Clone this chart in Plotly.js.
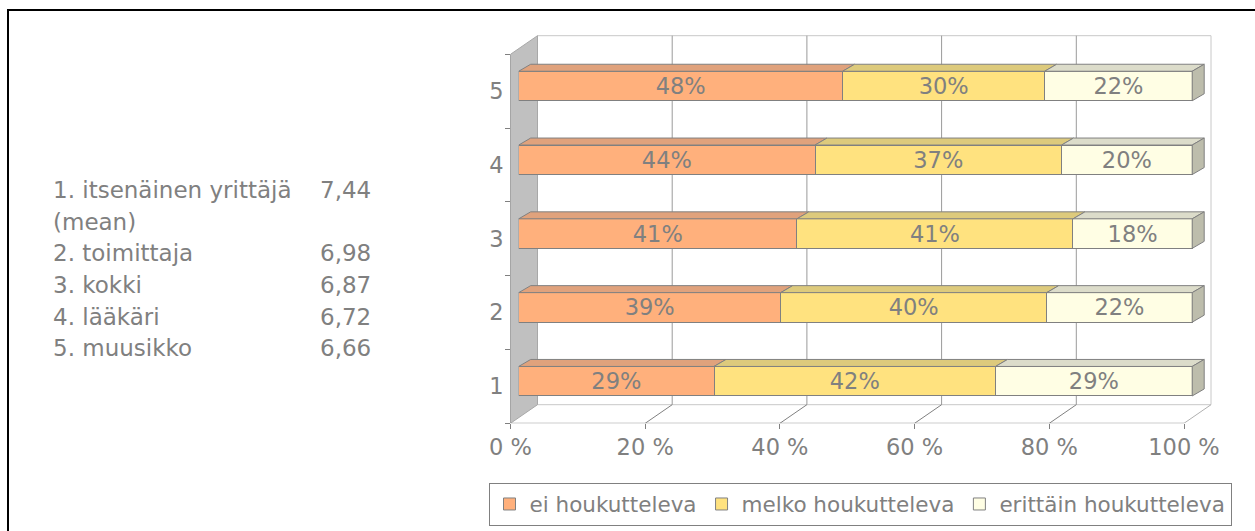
<!DOCTYPE html>
<html><head><meta charset="utf-8">
<script src="https://cdn.plot.ly/plotly-3.0.1.min.js"></script>
<style>html,body{margin:0;padding:0;background:#fff;overflow:hidden}#chart{width:1255px;height:531px}</style>
</head><body><div id="chart"></div>
<script>
// ---- data ----
const categories = ['1', '2', '3', '4', '5'];
const seriesNames = ['ei houkutteleva', 'melko houkutteleva', 'erittäin houkutteleva'];
const eiValues = [29.0, 38.9, 41.3, 44.0, 48.1];
const melkoValues = [41.8, 39.5, 41.0, 36.6, 30.0];
const erittainValues = [29.2, 21.6, 17.7, 19.4, 21.9];
const eiLabels = ['29%', '39%', '41%', '44%', '48%'];
const melkoLabels = ['42%', '40%', '41%', '37%', '30%'];
const erittainLabels = ['29%', '22%', '18%', '20%', '22%'];
const xTickValues = [0, 20, 40, 60, 80, 100];
const xTickLabels = ['0 %', '20 %', '40 %', '60 %', '80 %', '100 %'];
const noteLines = ['1. itsenäinen yrittäjä', '(mean)', '2. toimittaja', '3. kokki', '4. lääkäri', '5. muusikko'];
const noteMeans = ['7,44', '', '6,98', '6,87', '6,72', '6,66'];

// ---- styling / geometry ----
const W = 1255, H = 531;
const FONT = 'DejaVu Sans, Arial, sans-serif';
const GREY = '#808080';
const frontColors = ['#FFB07C', '#FFE27F', '#FFFEE4'];
const topColors = ['#E0A27C', '#DDCA7C', '#DCDCCA'];
const sideColor = '#BDBDAC';
const FX0 = 510.5, FX100 = 1184;            // front floor edge, 0% and 100%
const PPX = (FX100 - FX0) / 100;            // px per percent
const AB = 423.3, AT = 54.3;                // front category axis bottom/top
const PPC = (AB - AT) / 5;                  // px per category
const DEPTH_X = 27, DEPTH_Y = 18.6;         // back wall offset
const BSX = 8.2, BSY = 5.2;                 // bar front-face offset
const BDX = 12, BDY = 7;                    // bar depth
const py = v => 1 - v / H, px = v => v / W;

// subplot A (frame) geometry
const aRight = FX100 + DEPTH_X + 3, aTop = AT - DEPTH_Y - 3;
const aXr = [0, (aRight - FX0) / PPX];
const aYr = [0.5, 0.5 + (AB - aTop) / PPC];
const dx = DEPTH_X / PPX, dy = DEPTH_Y / PPC;
// subplot B (bars) geometry
const bLeft = FX0 + BSX, bRight = bLeft + 100 * PPX + BDX + 5;
const bBottom = AB - BSY, bTop = AT - BSY - BDY - 5;
const bXr = [0, (bRight - bLeft) / PPX];
const bYr = [0.5, 0.5 + (bBottom - bTop) / PPC];
const bdx = BDX / PPX, bdy = BDY / PPC;
const BARW = 0.4;

const yNum = categories.map(Number);
const seriesVals = [eiValues, melkoValues, erittainValues];
const seriesLabels = [eiLabels, melkoLabels, erittainLabels];

const traces = seriesVals.map((vals, s) => ({
  type: 'bar', orientation: 'h', name: seriesNames[s],
  x: vals, y: yNum, xaxis: 'x2', yaxis: 'y2', width: BARW,
  marker: {color: frontColors[s], line: {color: GREY, width: 1}},
  text: seriesLabels[s], textposition: 'inside', insidetextanchor: 'middle',
  textfont: {family: FONT, size: 22.5, color: GREY},
  hoverinfo: 'skip'
}));

const shapes = [];
const lineA = (x0, y0, x1, y1, color, layer) => shapes.push({type: 'line', xref: 'x', yref: 'y', x0, y0, x1, y1, layer: layer || 'below', line: {color, width: 1}});
// back wall
shapes.push({type: 'rect', xref: 'x', yref: 'y', x0: dx, x1: 100 + dx, y0: 0.5 + dy, y1: 5.5 + dy, layer: 'below', fillcolor: '#ffffff', line: {color: '#c8c8c8', width: 1}});
// back-wall gridlines and floor diagonals
xTickValues.forEach(t => {
  if (t > 0 && t < 100) lineA(t + dx, 0.5 + dy, t + dx, 5.5 + dy, '#9a9a9a');
  if (t > 0) lineA(t, 0.5, t + dx, 0.5 + dy, t === 100 ? '#b0b0b0' : GREY);
});
// left wall
shapes.push({type: 'path', xref: 'x', yref: 'y', layer: 'below', fillcolor: '#C0C0C0', line: {color: '#a8a8a8', width: 1},
  path: `M0,0.5 L0,5.5 L${dx},${5.5 + dy} L${dx},${0.5 + dy} Z`});
// axis lines
lineA(0, 0.5, 100, 0.5, GREY);
lineA(0, 0.5, 0, 5.5, GREY);

// bar 3D faces
const totals = yNum.map((_, i) => seriesVals.reduce((a, v) => a + v[i], 0));
yNum.forEach((yc, i) => {
  let c = 0;
  const yt = yc + BARW / 2, yb = yc - BARW / 2;
  seriesVals.forEach((vals, s) => {
    const c1 = c + vals[i] / totals[i] * 100;
    shapes.push({type: 'path', xref: 'x2', yref: 'y2', layer: 'above', fillcolor: topColors[s], line: {color: GREY, width: 1},
      path: `M${c},${yt} L${c1},${yt} L${c1 + bdx},${yt + bdy} L${c + bdx},${yt + bdy} Z`});
    c = c1;
  });
  shapes.push({type: 'path', xref: 'x2', yref: 'y2', layer: 'above', fillcolor: sideColor, line: {color: GREY, width: 1},
    path: `M100,${yb} L100,${yt} L${100 + bdx},${yt + bdy} L${100 + bdx},${yb + bdy} Z`});
});

// outer frame (left + top edge)
shapes.push({type: 'path', xref: 'paper', yref: 'paper', layer: 'above', line: {color: '#000000', width: 2},
  path: `M${px(8)},-0.05 L${px(8)},${py(10)} L1.05,${py(10)}`});

// left note text
const annotations = [];
const LINE0 = 190.2, PITCH = 31.6;
noteLines.forEach((t, i) => {
  annotations.push({xref: 'paper', yref: 'paper', x: px(51), y: py(LINE0 + i * PITCH), xanchor: 'left', yanchor: 'middle',
    text: t, showarrow: false, font: {family: FONT, size: 23, color: GREY}});
  if (noteMeans[i]) annotations.push({xref: 'paper', yref: 'paper', x: px(318), y: py(LINE0 + i * PITCH), xanchor: 'left', yanchor: 'middle',
    text: noteMeans[i], showarrow: false, font: {family: FONT, size: 23, color: GREY}});
});

const layout = {
  width: W, height: H, margin: {l: 0, r: 0, t: 0, b: 0},
  paper_bgcolor: '#ffffff', plot_bgcolor: 'rgba(0,0,0,0)',
  barmode: 'stack', barnorm: 'percent',
  uniformtext: {mode: 'show', minsize: 22.5},
  font: {family: FONT, color: GREY},
  showlegend: true,
  legend: {orientation: 'h', x: px(488.5), y: py(482.5), xanchor: 'left', yanchor: 'top',
    bordercolor: GREY, borderwidth: 1, bgcolor: '#ffffff', traceorder: 'normal',
    font: {family: FONT, size: 21.5, color: GREY}},
  xaxis: {domain: [px(FX0), px(aRight)], range: aXr, anchor: 'y', tickmode: 'array', tickvals: xTickValues, ticktext: xTickLabels,
    ticks: 'outside', ticklen: 5, tickcolor: GREY, showgrid: false, zeroline: false, showline: false,
    tickfont: {family: FONT, size: 22.5, color: GREY}, ticklabelstandoff: -1, fixedrange: true},
  yaxis: {domain: [py(AB), py(aTop)], range: aYr, anchor: 'x', tickmode: 'array', tickvals: yNum, ticktext: categories,
    ticks: '', showgrid: false, zeroline: false, showline: false,
    minor: {tickmode: 'array', tickvals: [0.5, 1.5, 2.5, 3.5, 4.5, 5.5], ticks: 'outside', ticklen: 5, tickcolor: GREY, showgrid: false},
    tickfont: {family: FONT, size: 22.5, color: GREY}, ticklabelstandoff: 6, fixedrange: true},
  xaxis2: {domain: [px(bLeft), px(bRight)], range: bXr, anchor: 'y2', visible: false, fixedrange: true},
  yaxis2: {domain: [py(bBottom), py(bTop)], range: bYr, anchor: 'x2', visible: false, fixedrange: true},
  shapes, annotations
};

Plotly.newPlot('chart', traces, layout, {displayModeBar: false, staticPlot: true});
</script></body></html>
